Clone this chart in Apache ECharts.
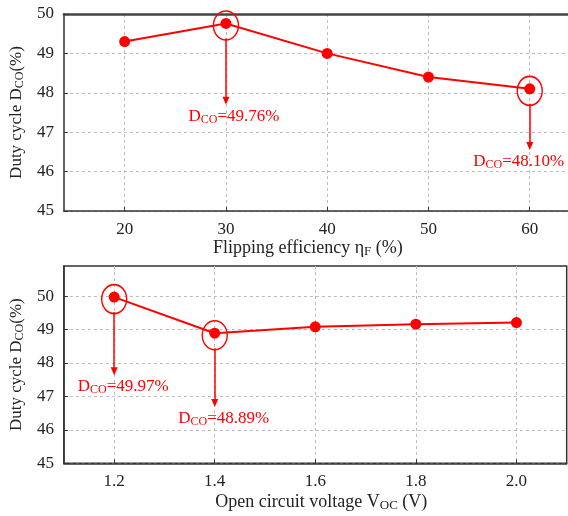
<!DOCTYPE html>
<html>
<head>
<meta charset="utf-8">
<script src="https://cdn.jsdelivr.net/npm/echarts@6/dist/echarts.min.js"></script>
<style>
  html, body { margin: 0; padding: 0; background: #fff; }
  #myChart { width: 568px; height: 516px; }
</style>
</head>
<body>
<div id="myChart"></div>
<script>
// data
const effX = [20, 30, 40, 50, 60];
const effDuty = [49.30, 49.76, 49.00, 48.40, 48.10];
const vocX = [1.2, 1.4, 1.6, 1.8, 2.0];
const vocDuty = [49.97, 48.89, 49.08, 49.16, 49.21];
const effTicks = [20, 30, 40, 50, 60];
const vocTicks = [1.2, 1.4, 1.6, 1.8, 2.0];
const dutyTicks = [45, 46, 47, 48, 49, 50];
// annotated points (index into series) and where the arrow ends
const effNotes = [1, 4];
const effArrowTip = [47.8, 46.65];
const vocNotes = [0, 1];
const vocArrowTip = [47.75, 46.8];
// sideways nudge of the note text (the last one hugs the right edge)
const effNoteShift = [8, -11];
const vocNoteShift = [9, 9];

const RED = '#ff0000';
const FONT = '"Liberation Serif", "DejaVu Serif", serif';

const rich = function (size, color) {
    return {
        n: { fontSize: size, fontFamily: FONT, color: color, lineHeight: size + 2 },
        s: { fontSize: Math.round(size * 0.7), fontFamily: FONT, color: color, lineHeight: 8, verticalAlign: 'bottom' }
    };
};

function pairs(xs, ys) {
    return xs.map((x, i) => [x, ys[i]]);
}

function notes(xs, ys, idx, tips, shifts, pxPerUnit) {
    const lines = [], rings = [];
    idx.forEach((k, i) => {
        const gap = 15 / pxPerUnit;
        const sh = shifts[i];
        lines.push([
            { coord: [xs[k], ys[k] - gap], symbol: 'none' },
            {
                coord: [xs[k], tips[i]], symbol: 'triangle', value: ys[k],
                label: { padding: sh > 0 ? [0, 0, 0, 2 * sh] : [0, -2 * sh, 0, 0] }
            }
        ]);
        rings.push({ coord: [xs[k], ys[k]] });
    });
    return {
        markLine: {
            silent: true,
            symbolSize: [7, 8],
            lineStyle: { color: RED, width: 1.5, type: 'solid' },
            label: {
                show: true,
                position: 'end',
                distance: 6,
                formatter: p => '{n|D}{s|CO}{n|=' + p.value.toFixed(2) + '%}',
                rich: rich(17, RED)
            },
            data: lines
        },
        markPoint: {
            silent: true,
            symbol: 'circle',
            symbolSize: [25, 29],
            symbolOffset: [0, 2],
            itemStyle: { color: 'rgba(0,0,0,0)', borderColor: RED, borderWidth: 1.5 },
            label: { show: false },
            data: rings
        }
    };
}

const gridLine = { show: true, lineStyle: { color: '#bbb', type: [3, 3], width: 1 } };

function xAxisOf(gridIndex, min, max, ticks, digits, name, gap) {
    return {
        type: 'value', gridIndex: gridIndex, min: min, max: max,
        name: name, nameLocation: 'middle', nameGap: gap,
        nameTextStyle: { rich: rich(18, '#222') },
        axisLine: { lineStyle: { color: '#333', width: 1.5 } },
        axisTick: { inside: true, length: 4, customValues: ticks, lineStyle: { color: '#333' } },
        axisLabel: { customValues: ticks, margin: 10, fontSize: 17, fontFamily: FONT, color: '#222',
            formatter: v => v.toFixed(digits) },
        splitLine: gridLine
    };
}

function yAxisOf(gridIndex, max) {
    return {
        type: 'value', gridIndex: gridIndex, min: 45, max: max,
        name: '{n|Duty cycle D}{s|CO}{n|(%)}', nameLocation: 'middle', nameGap: 27,
        nameTextStyle: { rich: rich(17, '#222') },
        axisLine: { lineStyle: { color: '#333', width: 1.5 } },
        axisTick: { inside: true, length: 4, customValues: dutyTicks, lineStyle: { color: '#333' } },
        axisLabel: { customValues: dutyTicks, margin: 10, fontSize: 17, fontFamily: FONT, color: '#222' },
        splitLine: gridLine
    };
}

const lineSeries = {
    type: 'line',
    symbol: 'circle',
    symbolSize: 11,
    color: RED,
    lineStyle: { width: 2 },
    silent: true
};

const topPx = 197 / 5;
const botPx = 197.3 / 5.9;

const topX = xAxisOf(0, 14, 63.78, effTicks, 0, '{n|Flipping efficiency η}{s|F}{n| (%)}', 27);
topX.nameTextStyle = { rich: rich(18, '#222'), padding: [0, 16, 0, 0] };
const botX = xAxisOf(1, 1.1, 2.1, vocTicks, 1, '{n|Open circuit voltage V}{s|OC}{n| (V)}', 29);
botX.nameTextStyle = { rich: rich(18, '#222'), padding: [0, 0, 0, 12] };

const option = {
    animation: false,
    grid: [
        { left: 61, top: 14, width: 507, height: 197 },
        { left: 58.3, top: 266, width: 508.4, height: 197.3, show: true, borderColor: '#333', borderWidth: 1.5 }
    ],
    xAxis: [
        topX,
        botX,
        {
            // top frame line of the upper plot (its right side is cut off)
            type: 'value', gridIndex: 0, position: 'top', min: 14, max: 63.78,
            axisLine: { lineStyle: { color: '#444', width: 2.5 } },
            axisTick: { show: false }, axisLabel: { show: false }, splitLine: { show: false }
        }
    ],
    yAxis: [yAxisOf(0, 50), yAxisOf(1, 50.9)],
    series: [
        Object.assign({}, lineSeries, { xAxisIndex: 0, yAxisIndex: 0, data: pairs(effX, effDuty) },
            notes(effX, effDuty, effNotes, effArrowTip, effNoteShift, topPx)),
        Object.assign({}, lineSeries, { xAxisIndex: 1, yAxisIndex: 1, data: pairs(vocX, vocDuty) },
            notes(vocX, vocDuty, vocNotes, vocArrowTip, vocNoteShift, botPx))
    ]
};

const myChart = echarts.init(document.getElementById('myChart'));
myChart.setOption(option);
</script>
</body>
</html>
